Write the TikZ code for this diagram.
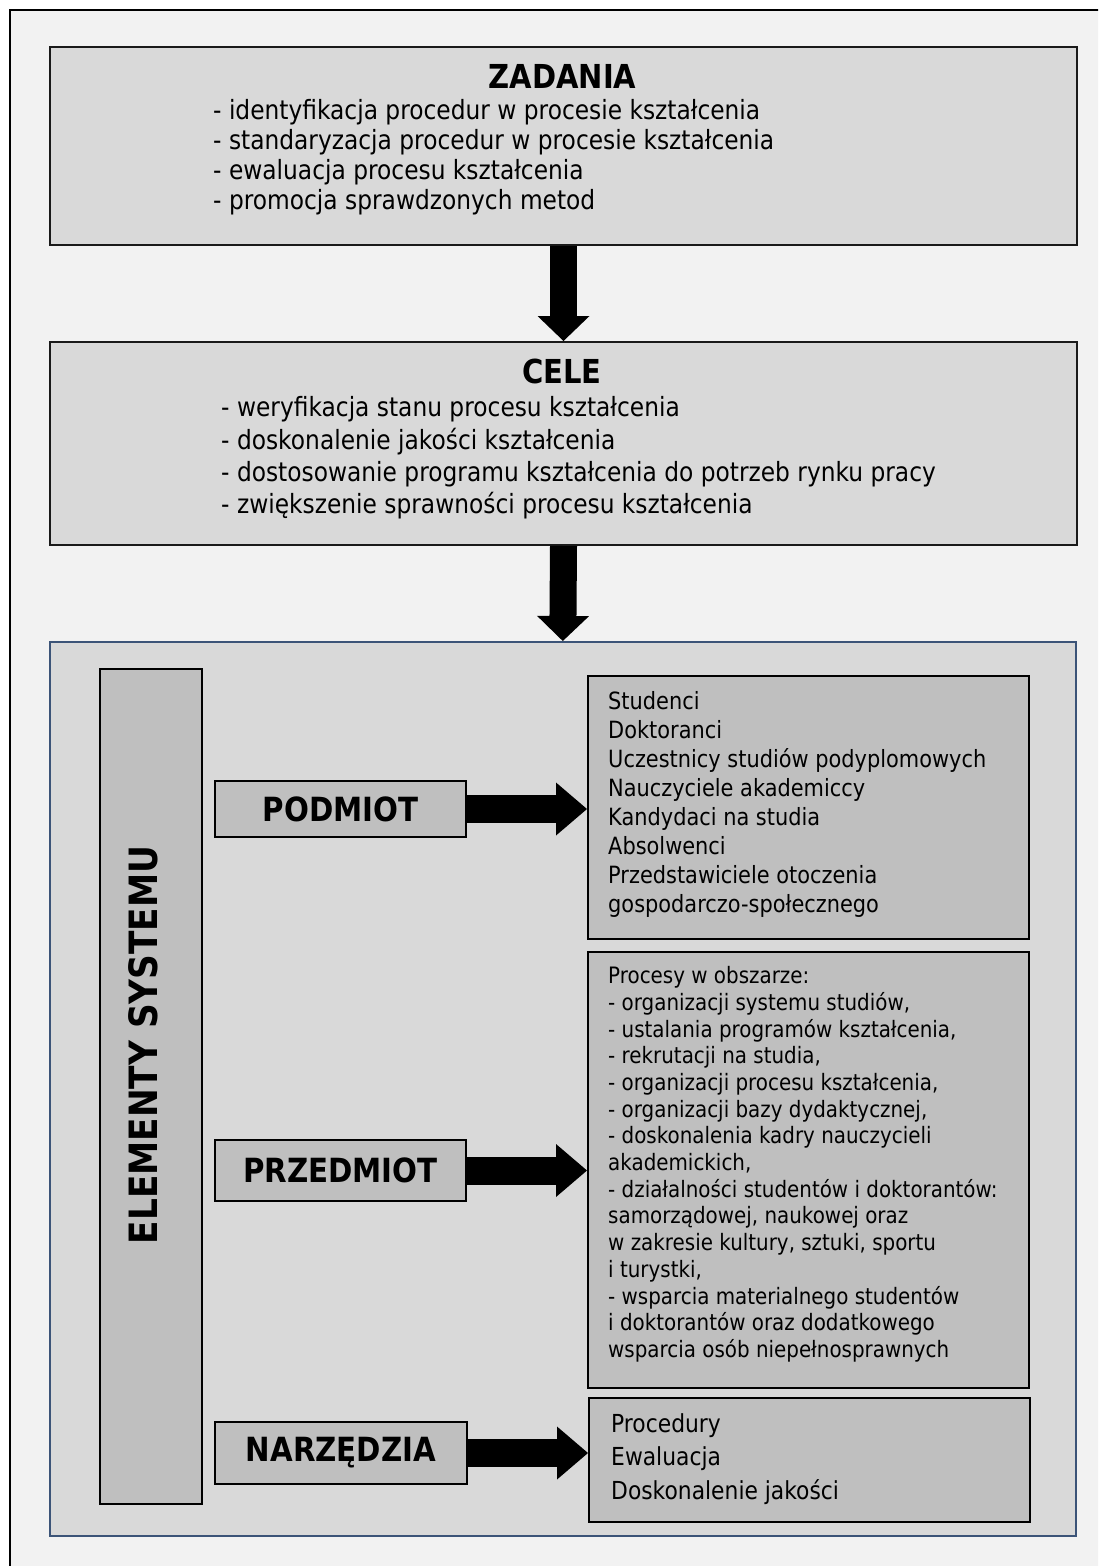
\documentclass[tikz,border=0pt]{standalone}
\usepackage{fontspec}
\setmainfont{DejaVu Sans}[FakeStretch=0.88]
\usetikzlibrary{arrows.meta}
\definecolor{bgout}{HTML}{F2F2F2}
\definecolor{boxmid}{HTML}{D9D9D9}
\definecolor{boxdark}{HTML}{BFBFBF}
\definecolor{framebl}{HTML}{3C5478}
\definecolor{edgedark}{HTML}{1A1A1A}
\begin{document}
\begin{tikzpicture}[x=1pt,y=-1pt,
  outerframe/.style={draw=black,line width=2.5pt,fill=bgout},
  tbox/.style={draw=edgedark,line width=2pt,fill=boxmid,anchor=north west,inner sep=0pt},
  bigbox/.style={draw=framebl,line width=1.6pt,fill=boxmid,anchor=north west,inner sep=0pt},
  dbox/.style={draw=black,line width=2pt,fill=boxdark,anchor=north west,inner sep=0pt},
  lbl/.style={dbox,font=\fontsize{33.3}{36}\selectfont\bfseries},
  title/.style={inner sep=0pt,font=\fontsize{33}{36}\selectfont\bfseries},
  listtxt/.style={anchor=north west,inner sep=0pt,align=left},
  vfat/.style={line width=27pt,-{Triangle[width=52pt,length=25pt,line width=0pt]}},
  hfat/.style={line width=28pt,-{Triangle[width=53pt,length=31pt,line width=0pt]}}
]
\useasboundingbox (0,0) rectangle (1098,1566);
\clip (0,0) rectangle (1098,1566);
\fill[white] (0,0) rectangle (1098,1566);
\draw[outerframe] (10,10) rectangle (1125,1595);

% top boxes
\node[tbox,minimum width=1027pt,minimum height=198pt] (zad) at (49,46) {};
\node[tbox,minimum width=1027pt,minimum height=203pt] (cele) at (49,341) {};
\node[bigbox,minimum width=1026pt,minimum height=894pt] (big) at (49,641) {};

\node[title] (zadt) at (562.5,76.5) {ZADANIA};
\node[listtxt,font=\fontsize{26.5}{30}\selectfont] (zadl) at (213,98.9)
 {- identyfikacja procedur w procesie kształcenia\\
  - standaryzacja procedur w procesie kształcenia\\
  - ewaluacja procesu kształcenia\\
  - promocja sprawdzonych metod};

\node[title] (celet) at (562,371.5) {CELE};
\node[listtxt,font=\fontsize{26.5}{32.3}\selectfont] (celel) at (221,396.4)
 {- weryfikacja stanu procesu kształcenia\\
  - doskonalenie jakości kształcenia\\
  - dostosowanie programu kształcenia do potrzeb rynku pracy\\
  - zwiększenie sprawności procesu kształcenia};

% inner elements
\node[dbox,minimum width=102pt,minimum height=835pt] (elem) at (99,668) {};
\node[rotate=90,inner sep=0pt,font=\fontsize{39}{42}\selectfont\bfseries] (elemt) at (143.5,1045) {ELEMENTY SYSTEMU};

\node[lbl,minimum width=251pt,minimum height=56pt] (pod) at (214,780) {PODMIOT};
\node[lbl,minimum width=251pt,minimum height=61pt] (prz) at (214,1139) {PRZEDMIOT};
\node[lbl,minimum width=252pt,minimum height=62pt] (nar) at (214,1421) {NARZĘDZIA};

\node[dbox,minimum width=441pt,minimum height=263pt] (podl) at (587,675) {};
\node[dbox,minimum width=441pt,minimum height=436pt] (przl) at (587,951) {};
\node[dbox,minimum width=441pt,minimum height=124pt] (narl) at (588,1397) {};

\node[listtxt,font=\fontsize{23.75}{29}\selectfont] (podt) at (608,691)
 {Studenci\\
  Doktoranci\\
  Uczestnicy studiów podyplomowych\\
  Nauczyciele akademiccy\\
  Kandydaci na studia\\
  Absolwenci\\
  Przedstawiciele otoczenia\\
  gospodarczo-społecznego};

\node[listtxt,font=\fontsize{22.6}{26.7}\selectfont] (przt) at (608,966.3)
 {Procesy w obszarze:\\
  - organizacji systemu studiów,\\
  - ustalania programów kształcenia,\\
  - rekrutacji na studia,\\
  - organizacji procesu kształcenia,\\
  - organizacji bazy dydaktycznej,\\
  - doskonalenia kadry nauczycieli\\
  akademickich,\\
  - działalności studentów i doktorantów:\\
  samorządowej, naukowej oraz\\
  w zakresie kultury, sztuki, sportu\\
  i turystki,\\
  - wsparcia materialnego studentów\\
  i doktorantów oraz dodatkowego\\
  wsparcia osób niepełnosprawnych};

\node[listtxt,font=\fontsize{24.8}{33.5}\selectfont] (nart) at (611,1413.2)
 {Procedury\\
  Ewaluacja\\
  Doskonalenie jakości};

% arrows
\draw[vfat] (zad.south) -- (cele.north);
\draw[vfat] (cele.south) -- (big.north);
\draw[hfat] (pod.east) -- (pod.east -| podl.west);
\draw[hfat] (prz.east) -- (prz.east -| przl.west);
\draw[hfat] (nar.east) -- (nar.east -| narl.west);
\end{tikzpicture}
\end{document}
